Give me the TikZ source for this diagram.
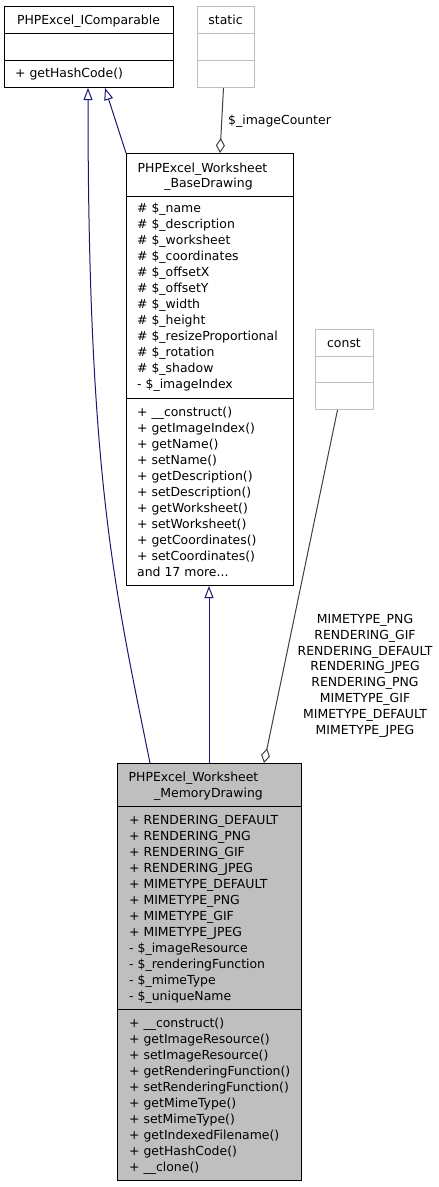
\documentclass[tikz,border=0pt]{standalone}
\usepackage{fontspec}
\setmainfont{DejaVu Sans}
\usetikzlibrary{arrows.meta,calc}
\definecolor{navy}{HTML}{191970}
\definecolor{edgegray}{HTML}{404040}
\definecolor{boxgray}{HTML}{BFBFBF}
\tikzset{
  classbox/.style={draw=black, line width=1pt, fill=white, inner sep=0pt, anchor=north west},
  lightbox/.style={classbox, draw=boxgray},
  divider/.style={draw=black, line width=1pt},
  lightdivider/.style={draw=boxgray, line width=1pt},
  txt/.style={inner sep=0pt, anchor=base west},
  ctxt/.style={inner sep=0pt, anchor=base},
  inh/.style={draw=navy, line width=1pt, -{Triangle[open, length=12pt, width=9pt, fill=white]}},
  comp/.style={draw=edgegray, line width=1pt, -{Diamond[open, length=15pt, width=9pt, fill=white]}}
}
\begin{document}
\begin{tikzpicture}[x=1pt, y=-1pt, font=\fontsize{12.45}{16}\selectfont]
\useasboundingbox (0,0) rectangle (439,1187);

% boxes
\node[classbox, minimum width=169pt, minimum height=81pt] (icomp) at (4,6) {};
\node[lightbox, minimum width=57pt, minimum height=81pt] (static) at (197,6) {};
\node[classbox, minimum width=167pt, minimum height=432pt] (base) at (126,153) {};
\node[lightbox, minimum width=58pt, minimum height=80pt] (const) at (315,329) {};
\node[classbox, fill=boxgray, minimum width=184pt, minimum height=417pt] (mem) at (117,763) {};

% dividers
\draw[divider] (icomp.west |- 0,33) -- (icomp.east |- 0,33);
\draw[divider] (icomp.west |- 0,60) -- (icomp.east |- 0,60);
\draw[lightdivider] (static.west |- 0,33) -- (static.east |- 0,33);
\draw[lightdivider] (static.west |- 0,60) -- (static.east |- 0,60);
\draw[divider] (base.west |- 0,196) -- (base.east |- 0,196);
\draw[divider] (base.west |- 0,398) -- (base.east |- 0,398);
\draw[lightdivider] (const.west |- 0,356) -- (const.east |- 0,356);
\draw[lightdivider] (const.west |- 0,382) -- (const.east |- 0,382);
\draw[divider] (mem.west |- 0,806) -- (mem.east |- 0,806);
\draw[divider] (mem.west |- 0,1009) -- (mem.east |- 0,1009);

% texts
\node[ctxt] (icompT) at (88.5,24) {PHPExcel\_IComparable};
\node[txt] (icompM) at (15,77.5) {+ getHashCode()};
\node[ctxt] (staticT) at (225.5,24.3) {static};
\node[ctxt] (constT) at (344,347) {const};

\node[ctxt] (baseT1) at (202.5,172) {PHPExcel\_Worksheet};
\node[ctxt] (baseT2) at (208.5,187) {\_BaseDrawing};
\foreach \t [count=\i from 0] in {\# \$\_name, \# \$\_description, \# \$\_worksheet, \# \$\_coordinates, \# \$\_offsetX, \# \$\_offsetY, \# \$\_width, \# \$\_height, \# \$\_resizeProportional, \# \$\_rotation, \# \$\_shadow, - \$\_imageIndex}
  \node[txt] (baseA\i) at (137,{212.5+16*\i}) {\t};
\foreach \t [count=\i from 0] in {+ \_\_construct(), + getImageIndex(), + getName(), + setName(), + getDescription(), + setDescription(), + getWorksheet(), + setWorksheet(), + getCoordinates(), + setCoordinates()}
  \node[txt] (baseM\i) at (137,{416+16*\i}) {\t};
\node[txt] (baseMore) at (137,576) {and 17 more...};

\node[ctxt] (memT1) at (193.5,781.5) {PHPExcel\_Worksheet};
\node[ctxt] (memT2) at (208.5,797) {\_MemoryDrawing};
\foreach \t [count=\i from 0] in {+ RENDERING\_DEFAULT, + RENDERING\_PNG, + RENDERING\_GIF, + RENDERING\_JPEG, + MIMETYPE\_DEFAULT, + MIMETYPE\_PNG, + MIMETYPE\_GIF, + MIMETYPE\_JPEG, - \$\_imageResource, - \$\_renderingFunction, - \$\_mimeType, - \$\_uniqueName}
  \node[txt] (memA\i) at (129,{824+16*\i}) {\t};
\foreach \t [count=\i from 0] in {+ \_\_construct(), + getImageResource(), + setImageResource(), + getRenderingFunction(), + setRenderingFunction(), + getMimeType(), + setMimeType(), + getIndexedFilename(), + getHashCode(), + \_\_clone()}
  \node[txt] (memM\i) at (129,{1027+16*\i}) {\t};

% edge labels
\node[txt] (counterL) at (228,124) {\$\_imageCounter};
\foreach \t [count=\i from 0] in {MIMETYPE\_PNG, RENDERING\_GIF, RENDERING\_DEFAULT, RENDERING\_JPEG, RENDERING\_PNG, MIMETYPE\_GIF, MIMETYPE\_DEFAULT, MIMETYPE\_JPEG}
  \node[ctxt] (constL\i) at (365,{623.5+15.8*\i}) {\t};

% connectors
\draw[inh] ($(mem.north west)+(33,0)$) .. controls (115,590) and (88,480) .. ($(icomp.south west)+(84,0)$);
\draw[inh] (base.north west) -- ($(icomp.south west)+(101,0)$);
\draw[inh] ($(mem.north west)+(92,0)$) -- ($(base.south west)+(83,0)$);
\draw[comp] ($(static.south)+(-2.5,0)$) -- ($(base.north west)+(94,0)$);
\draw[comp] ($(const.south)+(-7,0)$) -- ($(mem.north west)+(147,0)$);
\end{tikzpicture}
\end{document}
